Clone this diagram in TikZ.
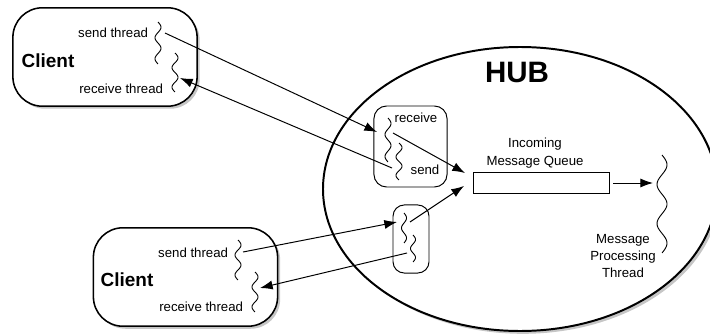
\documentclass[tikz,border=0pt]{standalone}
\usepackage{fontspec}
\setmainfont{Liberation Sans}
\usetikzlibrary{arrows.meta,shadows}

% a wavy vertical thread: x, top y, bottom y, number of waves, amplitude
\newcommand{\wavy}[5]{%
  \draw[thread] plot[domain=0:1,samples=60,smooth]
    ({#1+#5*sin(\x*360*#4)},{#2+(#3-#2)*\x});}

\begin{document}
\begin{tikzpicture}[x=0.025cm,y=-0.025cm,
    every node/.style={font=\fontsize{9.4}{12.4}\selectfont},
    client/.style={draw,line width=1.1pt,rounded corners=21pt,fill=white,
      minimum width=131pt,minimum height=70pt,inner sep=0pt,
      drop shadow={shadow xshift=1.8pt,shadow yshift=-1.8pt,opacity=0.45}},
    hubbox/.style={draw,line width=0.7pt,rounded corners=9pt,inner sep=0pt},
    thread/.style={line width=0.65pt},
    msg/.style={line width=0.7pt,-{Latex[length=9pt,width=6.5pt]}}]

  \useasboundingbox (0,0) rectangle (710,335);
  \clip (0,0) rectangle (710,335);

  % --- the hub ---
  \draw[line width=1.4pt,fill=white,
    drop shadow={shadow xshift=2pt,shadow yshift=-2pt,opacity=0.45}]
    (520,189) ellipse [x radius=197, y radius=142];
  \node[font=\fontsize{21}{24}\selectfont\bfseries] (hub) at (517,72) {HUB};

  % --- the two clients ---
  \node[client] (topclient) at (105,57) {};
  \node[client] (botclient) at (185.5,277) {};
  \node[font=\fontsize{13.5}{16}\selectfont\bfseries] at (48,61) {Client};
  \node[font=\fontsize{13.5}{16}\selectfont\bfseries] at (127,280) {Client};

  \node[anchor=east] at (153,33) {send thread};
  \node[anchor=east] at (168,89) {receive thread};
  \node[anchor=east] at (233,253) {send thread};
  \node[anchor=east] at (248,307) {receive thread};

  % threads of the clients
  \wavy{158}{22}{64}{2}{3}
  \wavy{175}{53}{92}{2}{3}
  \wavy{238}{240}{280}{2}{3}
  \wavy{255}{272}{312}{2}{3}

  % --- connection handlers inside the hub ---
  \node[hubbox,minimum width=52pt,minimum height=57.6pt] (upbox) at (410.5,146.5) {};
  \node[hubbox,minimum width=25.6pt,minimum height=48.4pt,rounded corners=8pt]
    (lowbox) at (411,239) {};
  \node at (416,118) {receive};
  \node at (425,170) {send};

  \wavy{388}{118}{162}{2}{3}
  \wavy{399}{143}{180}{2}{3}
  \wavy{404}{213}{243}{1.5}{2.5}
  \wavy{413}{235}{262}{1.5}{2.5}

  % --- queue and processing thread ---
  \node[draw,line width=0.7pt,minimum width=96.7pt,minimum height=15.6pt,inner sep=0pt]
    (queue) at (541,183) {};
  \node[align=center] at (535,153) {Incoming\\Message Queue};
  \wavy{662}{155}{253}{2.5}{5}
  \node[align=center] at (623,256) {Message\\Processing\\Thread};

  % --- end points of the messages ---
  \coordinate (tsend) at (165,33);
  \coordinate (trecv) at (180,78);
  \coordinate (bsend) at (243,252);
  \coordinate (brecv) at (260,288);
  \coordinate (uprecv) at (377,132);
  \coordinate (upout) at (393,133);
  \coordinate (upsend) at (392,168);
  \coordinate (lowrecv) at (397,222);
  \coordinate (lowout) at (410,222);
  \coordinate (lowsend) at (407,253);
  \coordinate (qin1) at (465,173);
  \coordinate (qin2) at (464,186);
  \coordinate (qout) at (613,183);
  \coordinate (proc) at (653,183);

  % --- messages ---
  \draw[msg] (tsend) -- (uprecv);
  \draw[msg] (upsend) -- (trecv);
  \draw[msg] (bsend) -- (lowrecv);
  \draw[msg] (lowsend) -- (brecv);
  \draw[msg] (upout) -- (qin1);
  \draw[msg] (lowout) -- (qin2);
  \draw[msg] (qout) -- (proc);
\end{tikzpicture}
\end{document}
